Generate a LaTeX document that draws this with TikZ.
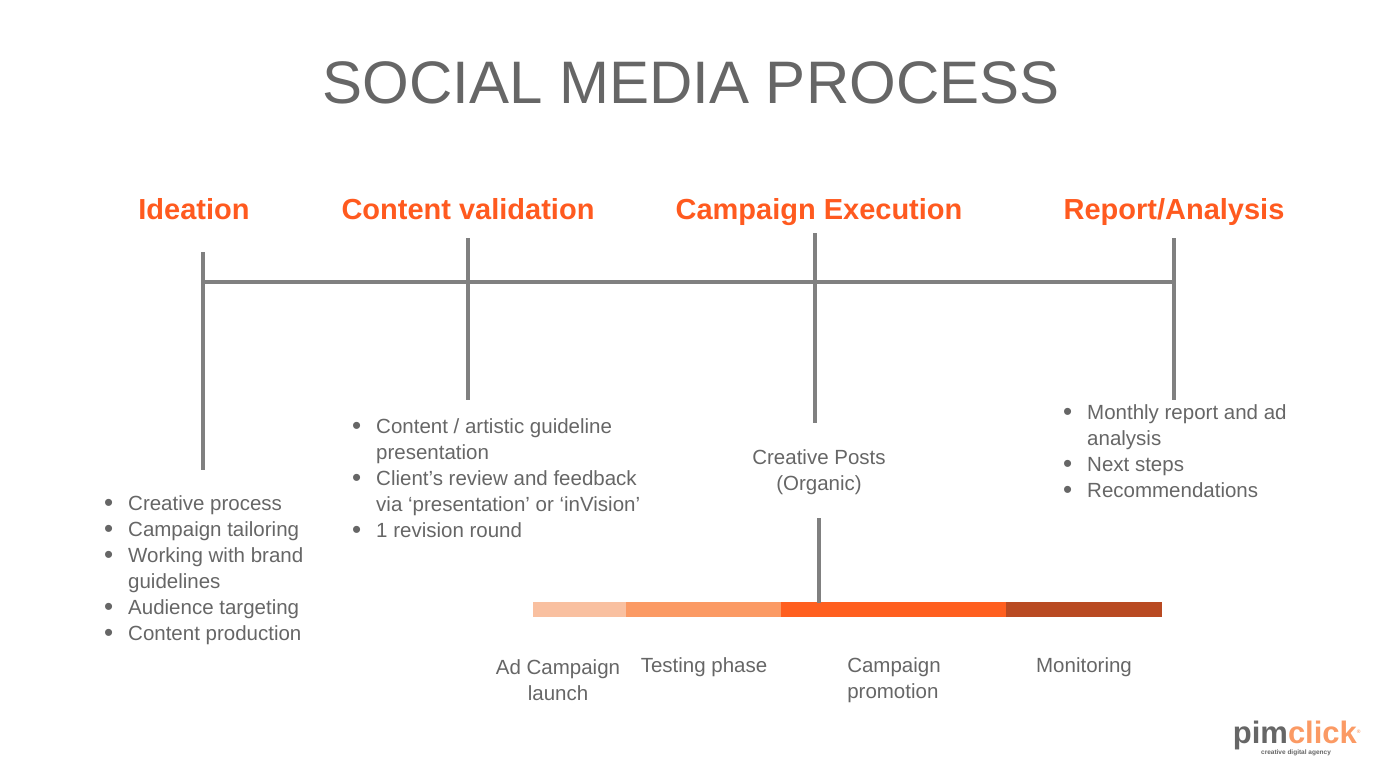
\documentclass[tikz,border=0pt]{standalone}
\usepackage{fontspec}
\setmainfont{Liberation Sans}
\usetikzlibrary{positioning}
\definecolor{smgrey}{HTML}{666666}
\definecolor{lngrey}{HTML}{808080}
\definecolor{smorange}{HTML}{FF5A1F}
\definecolor{segA}{HTML}{F9C0A0}
\definecolor{segB}{HTML}{FB9A64}
\definecolor{segC}{HTML}{FF5F1F}
\definecolor{segD}{HTML}{B94A22}
\newcommand{\newStage}[3]{\node[stage](#1) at (#2){#3};}
\newcommand{\bul}{\makebox[24pt][l]{\fontsize{26}{26}\selectfont\raisebox{-1.5pt}{\textbullet}}}

\begin{document}
\begin{tikzpicture}[
    % pixel grid of the slide
    x=1pt,y=-1pt,
    % styles
    stage/.style={font=\fontsize{29}{30}\selectfont\bfseries, text=smorange, anchor=base},
    stem/.style={draw=lngrey, line width=4pt},
    body/.style={font=\fontsize{20.5}{26}\selectfont, text=smgrey, align=left, inner sep=0pt},
    blist/.style={body, anchor=north west}
    ]
    \useasboundingbox (0,0) rectangle (1384,781);

    \node[font=\fontsize{60}{62}\selectfont, text=smgrey] (title) at (691,83) {SOCIAL MEDIA PROCESS};

    \newStage{ideation}{194,219}{Ideation}
    \newStage{validation}{468,219}{Content validation}
    \newStage{execution}{819,219}{Campaign Execution}
    \newStage{report}{1174,219}{Report/Analysis}

    % timeline
    \coordinate (axisL) at (201,282);
    \coordinate (axis) at (1176,282);
    \draw[stem] (axisL) -- (axis);
    \draw[stem] (203,252) -- (203,470);
    \draw[stem] (468,238) -- (468,400);
    \draw[stem] (815,233) -- (815,423);
    \draw[stem] (1174,238) -- (1174,400);

    % lists
    \node[blist] (ideaList) at (104,495) {%
      \bul Creative process\\
      \bul Campaign tailoring\\
      \bul Working with brand\\
      \hspace*{24pt}guidelines\\
      \bul Audience targeting\\
      \bul Content production};
    \node[blist] (valList) at (352,418) {%
      \bul Content / artistic guideline\\
      \hspace*{24pt}presentation\\
      \bul Client’s review and feedback\\
      \hspace*{24pt}via ‘presentation’ or ‘inVision’\\
      \bul 1 revision round};
    \node[blist] (repList) at (1063,404) {%
      \bul Monthly report and ad\\
      \hspace*{24pt}analysis\\
      \bul Next steps\\
      \bul Recommendations};
    \node[body, align=center] (posts) at (819,472) {Creative Posts\\(Organic)};

    % campaign bar
    \fill[segA] (533,602) rectangle (626,617);
    \fill[segB] (626,602) rectangle (781,617);
    \fill[segC] (781,602) rectangle (1006,617);
    \fill[segD] (1006,602) rectangle (1162,617);
    \coordinate (barTop) at (819,603);
    \coordinate (postsFoot) at (819,518);
    \draw[stem] (postsFoot) -- (barTop);

    \node[body, align=center] (launch) at (558,680) {Ad Campaign\\launch};
    \node[body] (testing) at (704,667) {Testing phase};
    \node[body, align=left] (promo) at (894,680) {Campaign\\promotion};
    \node[body] (monitor) at (1084,667) {Monitoring};

    % logo
    \node[font=\fontsize{31}{31}\selectfont\bfseries, inner sep=0pt] (logo) at (1297,735)
      {\textcolor{smgrey}{pim}\textcolor{segB}{click}\textsuperscript{\tiny\textcolor{segB}{®}}};
    \node[font=\fontsize{6.5}{6.5}\selectfont\bfseries, text=smgrey, inner sep=0pt] (tagline) at (1296,753) {creative digital agency};
\end{tikzpicture}
\end{document}
